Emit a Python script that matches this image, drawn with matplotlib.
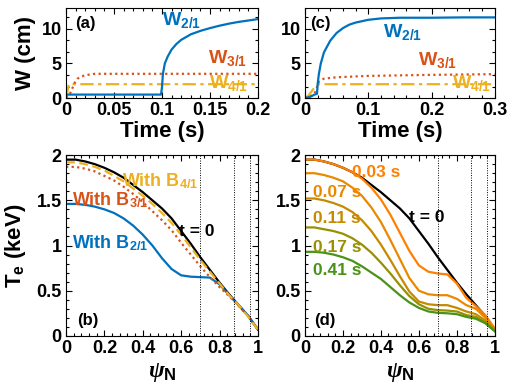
import numpy as np
import matplotlib
matplotlib.use('Agg')
import matplotlib.pyplot as plt
from matplotlib.ticker import MultipleLocator, AutoMinorLocator

plt.rcParams['font.family'] = ['Liberation Sans', 'DejaVu Sans']
plt.rcParams['font.weight'] = 'bold'
plt.rcParams['axes.labelweight'] = 'bold'
plt.rcParams['mathtext.fontset'] = 'custom'
plt.rcParams['mathtext.rm'] = 'Liberation Sans:bold'
plt.rcParams['mathtext.bf'] = 'Liberation Sans:bold'
plt.rcParams['mathtext.it'] = 'Liberation Serif:italic'

C_BLUE = '#0072BD'
C_RED = '#D95319'
C_YEL = '#EDB120'

# ---- panel (a): island widths, case 1 ----
ta_21 = [0, 0.002, 0.05, 0.099, 0.1, 0.101, 0.103, 0.106, 0.11, 0.115, 0.12, 0.13,
         0.14, 0.15, 0.16, 0.17, 0.18, 0.19, 0.2]
wa_21 = [0.4, 0.5, 0.5, 0.5, 1.5, 3.5, 5.0, 6.0, 7.0, 7.8, 8.4, 9.2,
         9.7, 10.1, 10.45, 10.75, 11.0, 11.2, 11.4]
ta_31 = [0, 0.003, 0.006, 0.009, 0.012, 0.016, 0.02, 0.025, 0.03, 0.2]
wa_31 = [0.1, 0.3, 1.2, 2.2, 2.8, 3.1, 3.3, 3.4, 3.5, 3.5]
ta_41 = [0, 0.0015, 0.003, 0.2]
wa_41 = [0.0, 1.0, 2.0, 2.0]

# ---- panel (c): island widths, case 2 ----
tc_21 = [0, 0.005, 0.01, 0.015, 0.019, 0.02, 0.022, 0.025, 0.03, 0.04, 0.05, 0.06,
         0.07, 0.08, 0.1, 0.12, 0.15, 0.2, 0.25, 0.3]
wc_21 = [0, 0.1, 0.25, 0.5, 0.6, 2.0, 3.5, 5.0, 6.6, 8.3, 9.4, 10.1,
         10.6, 10.9, 11.3, 11.5, 11.6, 11.6, 11.65, 11.65]
tc_31 = [0, 0.01, 0.015, 0.02, 0.022, 0.03, 0.05, 0.1, 0.2, 0.3]
wc_31 = [0, 0.3, 0.6, 1.8, 2.4, 2.8, 3.0, 3.2, 3.35, 3.45]
tc_41 = [0, 0.005, 0.01, 0.014, 0.018, 0.022, 0.3]
wc_41 = [0, 0.3, 0.9, 1.4, 1.8, 2.0, 2.0]

# ---- Te profiles ----
psi = [0, 0.05, 0.1, 0.15, 0.2, 0.25, 0.3, 0.35, 0.4, 0.45, 0.5, 0.55,
       0.6, 0.65, 0.7, 0.75, 0.8, 0.85, 0.9, 0.95, 1.0]
te_t0 = [1.95, 1.95, 1.93, 1.90, 1.86, 1.81, 1.75, 1.67, 1.59, 1.50, 1.41, 1.30,
         1.16, 1.02, 0.87, 0.73, 0.59, 0.46, 0.34, 0.22, 0.07]
te_b21 = [1.46, 1.46, 1.45, 1.43, 1.40, 1.36, 1.30, 1.22, 1.12, 1.00, 0.86, 0.74,
          0.67, 0.655, 0.65, 0.645, 0.57, 0.45, 0.34, 0.22, 0.07]
te_b31 = [1.87, 1.87, 1.85, 1.82, 1.77, 1.72, 1.65, 1.57, 1.48, 1.38, 1.28, 1.17,
          1.03, 0.90, 0.77, 0.65, 0.54, 0.44, 0.33, 0.22, 0.07]
te_b41 = [1.92, 1.92, 1.90, 1.87, 1.83, 1.77, 1.71, 1.63, 1.55, 1.46, 1.36, 1.25,
          1.12, 0.98, 0.84, 0.71, 0.58, 0.45, 0.34, 0.21, 0.07]

times = ['0.03 s', '0.07 s', '0.11 s', '0.17 s', '0.41 s']
time_colors = ['#FF8000', '#EA8800', '#C58A00', '#979000', '#4A9218']
te_times = [
    [1.95, 1.95, 1.93, 1.90, 1.86, 1.81, 1.74, 1.64, 1.51, 1.34, 1.14, 0.94,
     0.78, 0.71, 0.69, 0.68, 0.58, 0.42, 0.33, 0.23, 0.08],
    [1.80, 1.80, 1.78, 1.75, 1.71, 1.64, 1.55, 1.42, 1.26, 1.06, 0.85, 0.64,
     0.50, 0.46, 0.45, 0.45, 0.41, 0.34, 0.30, 0.20, 0.07],
    [1.52, 1.52, 1.50, 1.47, 1.43, 1.37, 1.28, 1.16, 1.01, 0.84, 0.66, 0.49,
     0.38, 0.35, 0.34, 0.34, 0.31, 0.27, 0.24, 0.17, 0.07],
    [1.20, 1.20, 1.18, 1.16, 1.13, 1.08, 1.01, 0.92, 0.81, 0.69, 0.56, 0.44,
     0.35, 0.30, 0.285, 0.28, 0.27, 0.23, 0.21, 0.15, 0.06],
    [0.93, 0.93, 0.92, 0.90, 0.87, 0.83, 0.77, 0.70, 0.63, 0.54, 0.45, 0.37,
     0.31, 0.27, 0.255, 0.25, 0.24, 0.21, 0.19, 0.14, 0.05],
]
surf = [0.7, 0.875, 0.96]

fig = plt.figure(figsize=(5.13, 3.83), dpi=100)
axa = fig.add_axes([0.1287, 0.744, 0.374, 0.235])
axc = fig.add_axes([0.5945, 0.744, 0.370, 0.235])
axb = fig.add_axes([0.1287, 0.123, 0.374, 0.472])
axd = fig.add_axes([0.5945, 0.123, 0.370, 0.472])

lw = 1.6
fmt = plt.FuncFormatter(lambda v, p: '%g' % round(v, 3))
for ax in (axa, axc, axb, axd):
    ax.tick_params(which='both', direction='in', top=True, right=True, labelsize=13,
                   width=0.8, pad=3)
    ax.tick_params(which='major', length=4)
    ax.tick_params(which='minor', length=2)
    for s in ax.spines.values():
        s.set_linewidth(0.8)

# (a)
axa.plot(ta_41, wa_41, color=C_YEL, lw=lw, ls=(0, (6, 2, 1.5, 2)))
axa.plot(ta_31, wa_31, color=C_RED, lw=lw, ls=(0, (1, 1.5)))
axa.plot(ta_21, wa_21, color=C_BLUE, lw=lw)
axa.set_xlim(0, 0.2)
axa.set_ylim(0, 13)
axa.xaxis.set_major_locator(MultipleLocator(0.05))
axa.xaxis.set_minor_locator(AutoMinorLocator(5))
axa.yaxis.set_major_locator(MultipleLocator(5))
axa.yaxis.set_minor_locator(AutoMinorLocator(3))
axa.xaxis.set_major_formatter(fmt)
axa.set_xlabel('Time (s)', fontsize=16, labelpad=1)
axa.set_ylabel('W (cm)', fontsize=16, labelpad=4)
axa.text(0.1, 10.6, r'$\mathbf{W_{2/1}}$', color=C_BLUE, fontsize=14)
axa.text(0.148, 5.1, r'$\mathbf{W_{3/1}}$', color=C_RED, fontsize=14)
axa.text(0.149, 1.45, r'$\mathbf{W_{4/1}}$', color=C_YEL, fontsize=14)
axa.text(0.05, 0.78, '(a)', transform=axa.transAxes, fontsize=12)

# (c)
axc.plot(tc_41, wc_41, color=C_YEL, lw=lw, ls=(0, (6, 2, 1.5, 2)))
axc.plot(tc_31, wc_31, color=C_RED, lw=lw, ls=(0, (1, 1.5)))
axc.plot(tc_21, wc_21, color=C_BLUE, lw=lw)
axc.set_xlim(0, 0.3)
axc.set_ylim(0, 13)
axc.xaxis.set_major_locator(MultipleLocator(0.1))
axc.xaxis.set_minor_locator(AutoMinorLocator(5))
axc.yaxis.set_major_locator(MultipleLocator(5))
axc.yaxis.set_minor_locator(AutoMinorLocator(3))
axc.xaxis.set_major_formatter(fmt)
axc.set_xlabel('Time (s)', fontsize=16, labelpad=1)
axc.text(0.123, 8.8, r'$\mathbf{W_{2/1}}$', color=C_BLUE, fontsize=14)
axc.text(0.178, 4.8, r'$\mathbf{W_{3/1}}$', color=C_RED, fontsize=14)
axc.text(0.232, 1.45, r'$\mathbf{W_{4/1}}$', color=C_YEL, fontsize=14)
axc.text(0.026, 0.78, '(c)', transform=axc.transAxes, fontsize=12)

# (b)
axb.plot(psi, te_t0, color='black', lw=lw)
axb.plot(psi, te_b21, color=C_BLUE, lw=lw)
axb.plot(psi, te_b31, color=C_RED, lw=lw, ls=(0, (1, 1.5)))
axb.plot(psi, te_b41, color=C_YEL, lw=lw, ls=(0, (4, 2)))
axb.text(0.29, 1.65, r'With B$_{\mathbf{4/1}}$', color=C_YEL, fontsize=13)
axb.text(0.03, 1.45, r'With B$_{\mathbf{3/1}}$', color=C_RED, fontsize=13)
axb.text(0.03, 0.97, r'With B$_{\mathbf{2/1}}$', color=C_BLUE, fontsize=13)
axb.text(0.59, 1.1, 't = 0', color='black', fontsize=12.5)
axb.text(0.057, 0.06, '(b)', transform=axb.transAxes, fontsize=12)
axb.set_ylabel(r'T$_\mathbf{e}$ (keV)', fontsize=16, labelpad=6)

# (d)
axd.plot(psi, te_t0, color='black', lw=lw)
for lab, col, te in zip(times, time_colors, te_times):
    axd.plot(psi, te, color=col, lw=lw)
lab_pos = [(0.25, 1.76), (0.04, 1.54), (0.04, 1.25), (0.04, 0.93), (0.04, 0.67)]
for lab, col, (px, py) in zip(times, time_colors, lab_pos):
    axd.text(px, py, lab, color=col, fontsize=12.5)
axd.text(0.55, 1.26, 't = 0', color='black', fontsize=12.5)
axd.text(0.05, 0.06, '(d)', transform=axd.transAxes, fontsize=12)

for ax in (axb, axd):
    for s in surf:
        ax.axvline(s, color='black', lw=0.7, ls=(0, (1, 1.5)))
    ax.set_xlim(0, 1)
    ax.set_ylim(0, 2)
    ax.xaxis.set_major_locator(MultipleLocator(0.2))
    ax.xaxis.set_minor_locator(AutoMinorLocator(5))
    ax.yaxis.set_major_locator(MultipleLocator(0.5))
    ax.yaxis.set_minor_locator(AutoMinorLocator(5))
    ax.xaxis.set_major_formatter(fmt)
    ax.yaxis.set_major_formatter(fmt)
    ax.set_xlabel(r'$\psi_\mathbf{N}$', fontsize=17, labelpad=3)

fig.savefig('out.png', dpi=100)
